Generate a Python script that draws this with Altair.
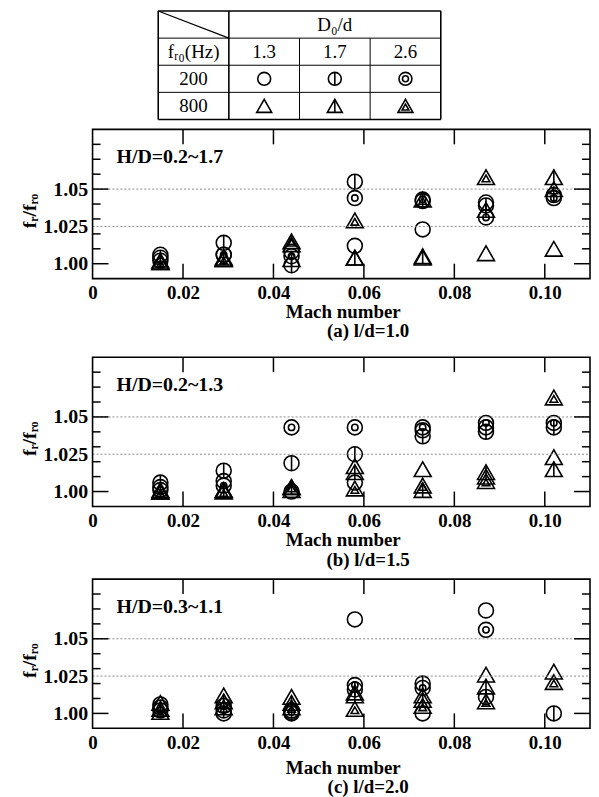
import altair as alt
import pandas as pd

SERIF = "Liberation Serif"

# ---------------- data ----------------
mach = [0.015, 0.029, 0.044, 0.058, 0.073, 0.087, 0.102]
series_names = ["C13", "C17", "C26", "T13", "T17", "T26"]

# panel (a) l/d=1.0
a_c13 = [1.006, 1.006, 1.008, 1.012, 1.023, 1.041, None]
a_c17 = [1.004, 1.014, 0.999, 1.055, 1.042, 1.039, 1.046]
a_c26 = [1.002, 1.006, 1.005, 1.044, 1.043, 1.031, 1.044]
a_t13 = [1.001, 1.003, 1.013, 1.004, 1.004, 1.007, 1.010]
a_t17 = [1.002, 1.004, 1.003, 1.004, 1.005, 1.036, 1.058]
a_t26 = [1.001, 1.003, 1.015, 1.029, 1.043, 1.058, 1.050]

# panel (b) l/d=1.5
b_c13 = [1.003, 1.007, 1.000, 1.006, 1.041, 1.043, None]
b_c17 = [1.006, 1.014, 1.019, 1.025, 1.037, 1.040, 1.043]
b_c26 = [1.001, 1.004, 1.043, 1.043, 1.043, 1.046, 1.046]
b_t13 = [1.000, 1.001, 1.001, 1.017, 1.015, 1.010, 1.023]
b_t17 = [1.001, 1.001, 1.003, 1.013, 1.001, 1.013, 1.015]
b_t26 = [1.000, 1.000, 1.003, 1.002, 1.004, 1.007, 1.063]

# panel (c) l/d=2.0
c_c13 = [1.006, 1.000, 1.000, 1.063, 1.000, 1.069, None]
c_c17 = [1.004, 1.002, 1.002, 1.016, 1.020, 1.011, 1.000]
c_c26 = [1.002, 1.005, 1.001, 1.019, 1.017, 1.056, None]
c_t13 = [1.007, 1.012, 1.011, 1.014, 1.012, 1.026, 1.028]
c_t17 = [1.003, 1.008, 1.007, 1.012, 1.009, 1.018, None]
c_t26 = [1.001, 1.004, 1.004, 1.003, 1.005, 1.008, 1.021]

panels = [
    [a_c13, a_c17, a_c26, a_t13, a_t17, a_t26],
    [b_c13, b_c17, b_c26, b_t13, b_t17, b_t26],
    [c_c13, c_c17, c_c26, c_t13, c_t17, c_t26],
]
hd_labels = ["H/D=0.2~1.7", "H/D=0.2~1.3", "H/D=0.3~1.1"]
captions = ["(a) l/d=1.0", "(b) l/d=1.5", "(c) l/d=2.0"]

x_tick_values = [0, 0.02, 0.04, 0.06, 0.08, 0.10]
y_label_values = [1.00, 1.025, 1.05]
y_major_ticks = [1.00, 1.05]
y_minor_ticks = [1.01, 1.02, 1.03, 1.04, 1.06, 1.07, 1.08]
grid_values = [1.025, 1.05]

table_header = "D\u2080/d"
table_corner = "f\u1d63\u2080(Hz)"
table_cols = ["1.3", "1.7", "2.6"]
table_rows = ["200", "800"]
table_series = [["C13", "C17", "C26"], ["T13", "T17", "T26"]]

# ---------------- layout constants ----------------
W, H = 500, 150
FS = 19
X_DOMAIN = [0, 0.11]
Y_DOMAIN = [0.99, 1.09]
mach_title_y = [184, 184, 190]
caption_y = [203, 204, 209]
extent_y = [H + 70, H + 63, H + 10]

CIRCLE_SERIES = ["C13", "C17", "C26"]
TRI_SERIES = ["T13", "T17", "T26"]
TRI = "M0,-0.866L-1,0.866L1,0.866Z"
TRI_BAR = "M0,-0.866L0,0.866"
TRI_IN = "M0,-0.231L-0.45,0.549L0.45,0.549Z"
CIR_BAR = "M0,-1L0,1"
SW = 1.6


def glyphs(data, x, y, csize, tsize, isize):
    base = alt.Chart(data)

    def pt(shape, size, series):
        return (
            base.mark_point(shape=shape, size=size, filled=False, color="black",
                            strokeWidth=SW, opacity=1)
            .encode(x=x, y=y)
            .transform_filter(alt.FieldOneOfPredicate(field="s", oneOf=series))
        )

    return [
        pt("circle", csize, CIRCLE_SERIES),
        pt(CIR_BAR, csize, ["C17"]),
        pt("circle", isize, ["C26"]),
        pt(TRI, tsize, TRI_SERIES),
        pt(TRI_BAR, tsize, ["T17"]),
        pt(TRI_IN, tsize, ["T26"]),
    ]


def text_at(text, x, y, size, weight="bold", align="center", angle=0, baseline="middle"):
    return alt.Chart(pd.DataFrame({"t": [text]})).mark_text(
        font=SERIF, fontSize=size, fontWeight=weight, align=align, angle=angle,
        baseline=baseline, color="black"
    ).encode(text="t:N", x=alt.value(x), y=alt.value(y))


one = pd.DataFrame({"k": [0]})


def make_panel(i):
    rows = []
    for s, vals in zip(series_names, panels[i]):
        for m, v in zip(mach, vals):
            if v is not None:
                rows.append({"mach": m, "val": v, "s": s})
    d = pd.DataFrame(rows)
    xs = alt.Scale(domain=X_DOMAIN, nice=False, zero=False)
    ys = alt.Scale(domain=Y_DOMAIN, nice=False, zero=False)
    xaxis = alt.Axis(values=x_tick_values, ticks=False, domain=False, grid=False,
                     labelExpr="datum.value == 0 ? '0' : format(datum.value, '.2f')",
                     labelFont=SERIF, labelFontWeight="bold", labelFontSize=FS,
                     labelColor="black", labelPadding=5, labelFlush=False,
                     labelOverlap=False, title=None)
    yaxis = alt.Axis(values=y_label_values, ticks=False, domain=False, grid=False,
                     labelExpr="datum.value < 1.01 ? '1.00' : (datum.value < 1.04 ? '1.025' : '1.05')",
                     labelFont=SERIF, labelFontWeight="bold", labelFontSize=FS + 1,
                     labelColor="black", labelPadding=5, labelFlush=False,
                     labelOverlap=False, title=None)
    X = alt.X("mach:Q", scale=xs, axis=xaxis)
    Y = alt.Y("val:Q", scale=ys, axis=yaxis)

    grid = alt.Chart(pd.DataFrame({"val": grid_values})).mark_rule(
        color="#8a8a8a", strokeDash=[2, 2], strokeWidth=1
    ).encode(y=Y, x=alt.value(0), x2=alt.value(W))

    frame = alt.Chart(one).mark_rect(fill="transparent", stroke="black", strokeWidth=1.6).encode(
        x=alt.value(0), x2=alt.value(W), y=alt.value(0), y2=alt.value(H))

    minor_df = pd.DataFrame({"val": y_minor_ticks})
    major_df = pd.DataFrame({"val": y_major_ticks})
    xt_df = pd.DataFrame({"mach": x_tick_values[1:]})
    tick_layers = []
    for df_, ln in ((minor_df, 8), (major_df, 16)):
        tick_layers.append(alt.Chart(df_).mark_rule(color="black", strokeWidth=1.5).encode(
            y=Y, x=alt.value(0), x2=alt.value(ln)))
        tick_layers.append(alt.Chart(df_).mark_rule(color="black", strokeWidth=1.5).encode(
            y=Y, x=alt.value(W), x2=alt.value(W - ln)))
    tick_layers.append(alt.Chart(xt_df).mark_rule(color="black", strokeWidth=1.5).encode(
        x=X, y=alt.value(0), y2=alt.value(15)))
    tick_layers.append(alt.Chart(xt_df).mark_rule(color="black", strokeWidth=1.5).encode(
        x=X, y=alt.value(H), y2=alt.value(H - 15)))

    texts = [
        text_at(hd_labels[i], 24, 28, FS + 1, align="left"),
        text_at("Mach number", 252, mach_title_y[i], FS),
        text_at(captions[i], 277, caption_y[i], FS),
        text_at("f\u1d63/f\u1d63\u2092", -63, 82, FS + 1, angle=270),
    ]
    extent = alt.Chart(one).mark_rule(strokeOpacity=0).encode(
        x=alt.value(0), x2=alt.value(10), y=alt.value(extent_y[i]))

    layers = glyphs(d, X, Y, 225, 289, 40) + [grid, frame] + tick_layers + texts + [extent]
    return alt.layer(*layers).properties(width=W, height=H)


def make_table():
    TH = 109
    xs = alt.Scale(domain=[-66 / 71, (W - 66) / 71], nice=False, zero=False)
    ys = alt.Scale(domain=[0, 4], reverse=True, nice=False, zero=False)
    lines = pd.DataFrame([
        # x1, y1, x2, y2, width
        (0, 0, 4, 0, 1.6), (0, 1, 4, 1, 1.0), (0, 2, 4, 2, 1.0), (0, 3, 4, 3, 1.0),
        (0, 4, 4, 4, 1.6), (0, 0, 0, 4, 1.6), (1, 0, 1, 4, 1.6), (2, 1, 2, 4, 1.0),
        (3, 1, 3, 4, 1.0), (4, 0, 4, 4, 1.6), (0, 0, 1, 1, 1.2),
    ], columns=["x1", "y1", "x2", "y2", "w"])
    line_layer = alt.Chart(lines).mark_rule(color="black").encode(
        x=alt.X("x1:Q", scale=xs, axis=None), x2="x2:Q",
        y=alt.Y("y1:Q", scale=ys, axis=None), y2="y2:Q",
        strokeWidth=alt.StrokeWidth("w:Q", scale=None))
    tx = [(2.5, 0.5, table_header), (0.5, 1.5, table_corner)]
    tx += [(1.5 + j, 1.5, c) for j, c in enumerate(table_cols)]
    tx += [(0.5, 2.5 + r, t) for r, t in enumerate(table_rows)]
    tdf = pd.DataFrame(tx, columns=["cx", "cy", "t"])
    text_layer = alt.Chart(tdf).mark_text(font=SERIF, fontSize=19, color="black",
                                          baseline="middle").encode(
        x=alt.X("cx:Q", scale=xs, axis=None), y=alt.Y("cy:Q", scale=ys, axis=None), text="t:N")
    g = []
    for r, row in enumerate(table_series):
        for j, s in enumerate(row):
            g.append({"cx": 1.5 + j, "cy": 2.5 + r, "s": s})
    gdf = pd.DataFrame(g)
    gl = glyphs(gdf, alt.X("cx:Q", scale=xs, axis=None), alt.Y("cy:Q", scale=ys, axis=None),
                169, 225, 36)
    return alt.layer(line_layer, text_layer, *gl).properties(width=W, height=TH)


chart = alt.vconcat(make_table(), make_panel(0), make_panel(1), make_panel(2), spacing=8).properties(
    padding={"left": 12, "top": 0, "right": 0, "bottom": 0}
).configure_view(strokeWidth=0)

chart.save("out.html", embed_options={"renderer": "svg", "actions": False})
